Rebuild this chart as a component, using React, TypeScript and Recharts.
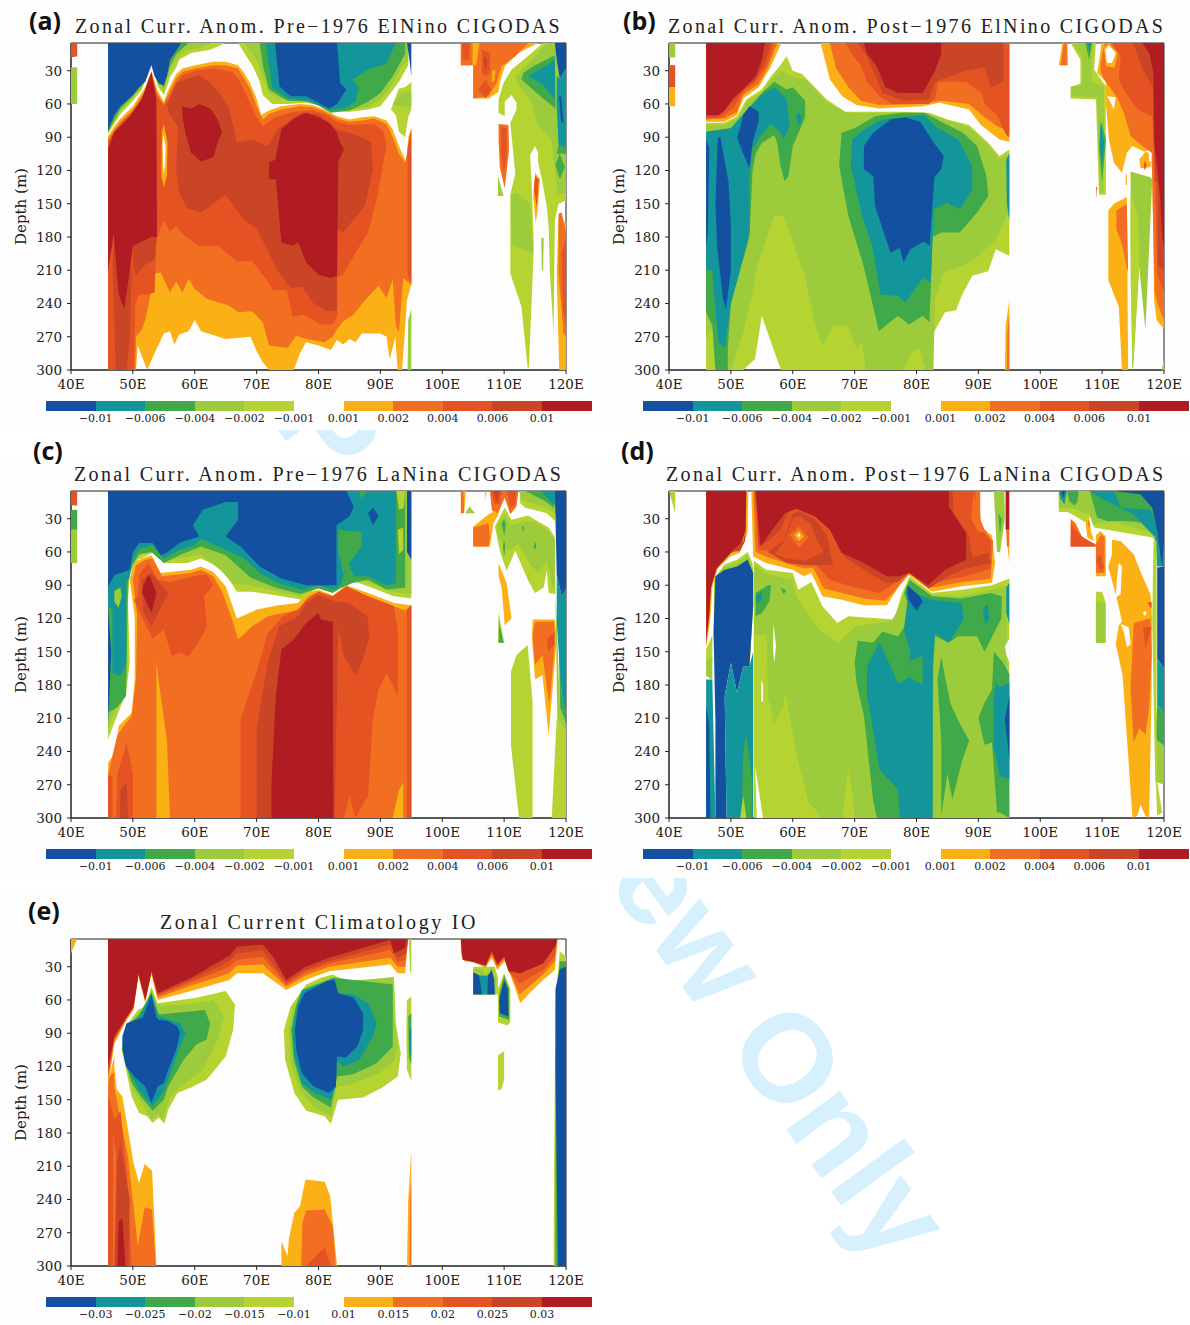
import { ReferenceArea, Scatter, ScatterChart, XAxis, YAxis } from "recharts";

type Blob = [number, number[]];

const lonTicks = [40, 50, 60, 70, 80, 90, 100, 110, 120];
const depthTicks = [30, 60, 90, 120, 150, 180, 210, 240, 270, 300];
const anomalyCold = ["−0.01", "−0.006", "−0.004", "−0.002", "−0.001"];
const anomalyWarm = ["0.001", "0.002", "0.004", "0.006", "0.01"];
const climCold = ["−0.03", "−0.025", "−0.02", "−0.015", "−0.01"];
const climWarm = ["0.01", "0.015", "0.02", "0.025", "0.03"];

// 0-4 cold levels, 5-9 warm levels, 10 = masked back to white
const bandColors = ["#1450a0", "#12959b", "#40a94a", "#9ccb3b", "#b5d431", "#fbb116", "#f26f22", "#e55323", "#c94526", "#b01c22", "#fdfdfd"];

// each entry: colour band, then lon,depth pairs of one contour outline (painted outer to inner)
const panelA: Blob[] = [
  [7, [40, 5, 41, 5, 41, 17, 40, 18]],
  [3, [40, 27, 41, 27, 41, 60, 40, 60]],
  [5, [46, 89, 47, 80, 48, 73, 50, 62, 52, 45, 53, 30, 54, 48, 55, 58, 55.5, 50, 56, 44, 57, 33, 58, 28, 60, 25, 63, 22, 65, 22, 67, 25, 68, 32, 69, 42, 70, 55, 70.7, 70, 72, 66, 74, 62, 77, 60, 79, 61, 81, 65, 83, 71, 85, 74, 87, 72, 89, 71, 91, 75, 92, 83, 93, 98, 94.2, 113, 94.5, 90, 95, 82, 95, 223, 94.3, 237, 93.9, 270, 93.5, 300, 92.8, 300, 92.4, 270, 92, 280, 91.5, 290, 91, 270, 90, 267, 87, 267, 86, 275, 85, 272, 84, 277, 83, 273, 82, 282, 80, 278, 78, 275, 77, 285, 76, 300, 72, 300, 71, 293, 70, 283, 69, 270, 65, 272, 61, 265, 60, 255, 59, 265, 57.5, 268, 56.7, 277, 56, 265, 55, 267, 53.5, 285, 52.3, 300, 50.8, 278, 50.5, 300, 46, 300]],
  [6, [46, 92, 47, 83, 48, 76, 50, 65, 52, 48, 53, 33, 54, 51, 55, 60, 56, 48, 57, 37, 58, 31, 60, 28, 63, 25, 65, 25, 67, 28, 68, 37, 69, 47, 70, 62, 71, 74, 72, 69, 74, 65, 77, 62, 79, 63, 81, 67, 83, 73, 85, 76, 87, 75, 89, 73, 91, 78, 92, 90, 93, 105, 94, 113, 95, 85, 95, 223, 93.7, 217, 93, 266, 92.5, 260, 92, 218, 91, 235, 89.7, 224, 87.2, 239, 85.7, 250, 84, 256, 83, 263, 82.3, 270, 81, 275, 78, 272, 76.4, 269, 75, 280, 72, 278, 71, 257, 69.3, 247, 67, 248, 65.6, 242, 62, 236, 60, 227, 59, 218, 58, 230, 57, 220, 56, 230, 54.5, 212, 53.5, 213, 53, 228, 52, 255, 51.5, 263, 50.5, 270, 50.4, 300, 46, 300]],
  [7, [46, 93, 47, 85, 48, 78, 50, 67, 52, 50, 53, 34, 54, 54, 55, 62, 56, 53, 57, 41, 58, 34, 60, 30, 63, 28, 66, 31, 67, 37, 68, 48, 69, 60, 70, 72, 71, 80, 73, 72, 76, 67, 79, 66, 81, 69, 83, 76, 85, 79, 89, 78, 90.5, 85, 91, 98, 90.3, 119, 89.4, 146, 88, 176, 85.7, 197, 84, 214, 83, 216, 83, 252, 82.3, 259, 80.4, 259, 77.7, 250, 75.8, 252, 74.9, 228, 72.7, 228, 71.5, 218, 69.3, 202, 66.8, 202, 63.7, 188, 60.6, 188, 58.2, 178, 57, 170, 56, 175, 55, 165, 53.8, 182, 53.5, 230, 52, 232, 51, 232, 50.4, 240, 50.2, 300, 46, 300]],
  [7, [94.4, 100, 95, 82, 95, 222, 94.4, 215]],
  [8, [55.5, 61, 57, 41, 58.8, 37, 60.7, 34, 62.5, 41, 64.4, 53, 65.6, 65, 66.8, 95, 69.3, 92, 71.8, 98, 73.6, 82, 77.3, 68, 80, 69, 83, 83, 86, 88, 88.5, 94, 88.8, 119, 87.5, 152, 85.7, 164, 84, 176, 83, 173, 83, 246, 81.4, 247, 79.2, 240, 77.3, 225, 75.5, 226, 73.3, 210, 71.8, 192, 69.9, 172, 68, 165, 65, 142, 61, 158, 58.8, 154, 57.5, 140, 57, 120, 57.3, 80, 56, 70]],
  [8, [50, 188, 53, 180, 53.9, 180, 53.5, 200, 52, 205, 50.5, 215, 50, 205]],
  [8, [46.7, 200, 47, 178, 48, 190, 49.8, 210, 49.5, 270, 49, 300, 47.2, 300, 47, 250]],
  [9, [46, 100, 47, 85, 49.5, 71, 51.4, 56, 53, 31, 53.8, 56, 53.9, 180, 53, 180, 50, 188, 49.5, 210, 48.6, 245, 47.7, 232, 46.9, 178, 46, 210]],
  [9, [58, 62, 59.4, 64, 60.8, 60, 62.5, 64, 63.7, 74, 64.4, 86, 63.7, 95, 63, 108, 61, 112, 59.4, 104, 58.5, 86, 58, 71]],
  [9, [74, 83, 76, 73, 78, 68, 80, 72, 81.7, 77, 83, 86, 83.3, 92, 84.1, 101, 83.2, 112, 83, 215, 82, 217, 80, 214, 78, 203, 76.7, 185, 75.8, 188, 74, 185, 73.1, 128, 72, 128, 72, 113, 73, 110]],
  [5, [54.7, 85, 55, 78, 55.6, 95, 55.5, 125, 55, 135, 54.6, 125]],
  [10, [54.8, 95, 55, 88, 55.3, 100, 55.2, 115, 55, 123, 54.9, 115]],
  [4, [46, 87, 48, 69, 50, 57, 51.5, 47, 53, 19, 54, 44, 55, 52, 55.5, 45, 56, 36, 57, 27, 57.5, 20, 59.4, 14, 62.5, 11, 65, 5, 46, 5]],
  [3, [46, 85, 48, 66, 50, 54, 51.5, 45, 53, 19, 54, 42, 55, 48, 56, 30, 57, 20, 58.5, 12, 61, 9, 63, 5, 46, 5]],
  [2, [46, 85, 48, 64, 50, 53, 51.5, 43, 53, 19, 54, 40, 55, 45, 56, 26, 57, 15, 59, 5, 46, 5]],
  [0, [46, 84, 47, 70, 48, 62, 50, 52, 51, 45, 52, 40, 53, 25, 53.5, 35, 54.3, 42, 55, 43, 55.5, 35, 56, 20, 57, 12, 57.8, 5, 46, 5]],
  [4, [67, 5, 69.5, 27, 70.5, 40, 71, 52, 72.5, 60, 75, 60, 78, 59, 81, 62, 83, 67, 85, 67, 88, 65, 90, 62, 91, 55, 93, 40, 94.5, 25, 94.5, 5]],
  [3, [68, 5, 70, 20, 71, 35, 72, 50, 74, 55, 78, 57, 81, 61, 83, 65, 85, 65, 88, 63, 90, 56, 92, 42, 93.5, 25, 94.5, 22, 94.5, 5]],
  [2, [70.5, 5, 71, 25, 72, 47, 75, 57, 79, 58, 82, 68, 85, 66, 88, 58, 90, 50, 92, 35, 94, 15, 94, 5]],
  [1, [71.5, 5, 72, 25, 72.5, 45, 75, 55, 78, 57, 82, 66, 84, 64, 86, 58, 86.5, 45, 85.5, 38, 88, 29, 91, 24, 91.7, 14, 92.5, 5]],
  [0, [73, 5, 73.3, 23, 73.7, 44, 75.5, 53, 78, 53, 81.7, 64, 83, 60, 84.5, 47, 83.5, 41, 83, 5]],
  [0, [94.3, 5, 95, 5, 95, 35, 94.7, 20]],
  [4, [91.7, 65, 93, 46, 94, 45, 95, 40, 95, 65, 94.5, 72, 94, 90, 93, 85, 92.5, 70]],
  [3, [92, 60, 93.5, 50, 95, 48, 95, 62, 93, 62]],
  [3, [94.4, 300, 94.5, 255, 95, 245, 95, 300]],
  [5, [103, 5, 115.5, 5, 112.3, 14, 110.1, 26, 109.3, 41, 109.1, 49, 107.5, 55, 105, 55, 105, 25, 103, 25]],
  [6, [103, 5, 114, 5, 111.8, 17, 109.6, 26, 108.8, 41, 107.5, 53, 105, 55, 105, 25, 103, 25]],
  [5, [104.9, 5, 106, 5, 105.5, 25, 104.9, 25]],
  [7, [103.2, 5, 104.5, 5, 104.3, 20, 103.3, 20]],
  [7, [106.4, 11, 107.7, 14, 107.7, 32, 107, 35, 106.4, 32]],
  [8, [106.7, 18, 107.2, 18, 107.2, 28, 106.9, 30]],
  [7, [105.8, 47, 107, 38, 107.9, 47, 107, 55]],
  [5, [108.1, 30, 108.6, 29, 108.4, 40, 108, 40]],
  [4, [116.3, 5, 120, 5, 120, 147, 118.8, 150, 118.2, 165, 118, 267, 117.4, 213, 117.2, 171, 116.9, 153, 116.1, 128, 115.5, 113, 115.5, 104, 115, 98, 114.2, 106, 114.5, 138, 114.8, 189, 114, 298, 113.8, 298, 112.8, 243, 111, 213, 111, 142, 111.8, 123, 111, 77, 112, 65, 112, 59, 111.2, 52, 110.1, 58, 110.1, 71, 109.1, 68, 109.1, 56, 109.9, 41, 111.2, 29, 113.4, 19]],
  [3, [116.9, 5, 120, 5, 120, 140, 118.7, 142, 118.2, 122, 117.7, 92, 115.5, 80, 114.5, 59, 112.5, 45, 111.8, 35, 113.4, 27]],
  [3, [111.1, 142, 112, 140, 114.2, 150, 114.7, 195, 111.2, 187]],
  [3, [116, 181, 116.4, 181, 116.3, 210, 116.1, 210]],
  [3, [109, 125, 109.9, 143, 109, 143]],
  [2, [113.1, 32, 115, 25, 118.2, 16, 118.3, 64, 116.3, 55, 112.8, 38]],
  [1, [113.9, 35, 116.9, 25, 118.2, 20, 118.2, 56, 116.3, 43]],
  [0, [118.2, 5, 120, 5, 120, 28, 119, 37, 118.5, 20]],
  [1, [118.5, 35, 119, 37, 120, 28, 120, 100, 118.8, 97, 118.5, 62]],
  [0, [118.9, 53, 119.2, 53, 119.6, 77, 119.2, 76]],
  [2, [118.8, 97, 120, 100, 120, 105, 118.5, 105]],
  [2, [119, 105, 119.8, 117, 119, 128, 118.3, 115]],
  [6, [109.1, 78, 110.7, 79, 110.8, 101, 110.1, 136, 109.3, 117, 109.1, 92]],
  [7, [109.5, 80, 110.4, 82, 110.4, 105, 110, 122, 109.5, 105]],
  [5, [115, 122, 115.8, 128, 115.4, 158, 115.1, 167, 114.7, 144]],
  [7, [115, 125, 115.6, 128, 115.3, 153, 114.8, 138]],
  [5, [118.8, 162, 120, 168, 120, 300, 118.9, 300, 118.5, 213]],
  [6, [118.8, 159, 119.3, 158, 120, 175, 120, 270, 119.6, 267, 118.8, 213]],
  [7, [119.3, 195, 120, 180, 120, 260, 119.5, 245]],
];

const panelB: Blob[] = [
  [3, [40, 5, 41, 5, 41, 18, 40, 18]],
  [7, [40, 25, 41, 25, 41, 45, 40, 45]],
  [5, [40, 45, 41, 45, 41, 62, 40, 62]],
  [5, [46, 76, 49, 76, 51, 70, 52, 55, 54.5, 45, 56.3, 28, 58, 7, 58, 5, 46, 5]],
  [6, [46, 74, 49, 73, 51, 67, 52, 52, 54.5, 42, 56, 27, 57.5, 5, 46, 5]],
  [7, [46, 73, 48.5, 72, 50.5, 63, 52, 49, 54, 40, 55.8, 25, 57, 5, 46, 5]],
  [8, [46, 72, 48, 71, 50, 60, 52, 47, 54, 38, 55.5, 22, 56.5, 5, 46, 5]],
  [9, [46, 70, 48, 70, 49, 66, 50.3, 55, 52, 47, 54, 35, 55, 20, 55.5, 5, 46, 5]],
  [5, [64.5, 5, 66, 38, 68, 53, 70.3, 61, 74, 64, 81, 62, 83.7, 59, 88.5, 65, 90.4, 79, 93.4, 92, 95, 94, 95, 5]],
  [6, [66, 5, 67, 28, 69, 45, 71, 57, 74, 61, 81, 60, 84, 57, 88.5, 60, 91, 72, 93, 80, 95, 85, 95, 5]],
  [7, [68.5, 5, 69.5, 15, 71, 25, 72, 40, 74, 53, 76, 60, 82, 60, 83, 55, 83.5, 40, 88, 40, 90.5, 50, 91, 60, 93, 70, 94.5, 88, 95, 90, 95, 5]],
  [8, [70.5, 5, 72, 17, 73, 30, 74.5, 50, 78, 57, 82, 56, 83, 40, 88, 30, 91, 27, 92, 45, 94, 40, 94, 5]],
  [9, [71.5, 5, 72, 15, 73.5, 25, 75, 45, 77, 50, 81, 50, 83, 30, 84, 15, 84, 5]],
  [4, [46, 77, 49, 77, 51, 71, 52.5, 56, 55, 47, 56.5, 35, 58, 25, 59, 17, 60, 30, 61.5, 33, 65.5, 56, 68.5, 67, 71.5, 67, 77.5, 67, 82, 68, 85, 74, 88.5, 79, 91.6, 95, 93.4, 107, 95, 101, 95, 197, 92.8, 191, 91.6, 211, 89, 215, 87.3, 233, 86.4, 246, 84.6, 248, 82.8, 266, 82.7, 300, 58.1, 300, 56.3, 272, 55, 251, 53.9, 290, 52, 300, 46, 300]],
  [3, [46, 79, 49, 79, 51, 73, 52.7, 58, 55, 50, 56.5, 38, 58, 30, 60, 36, 62, 38, 65.5, 58, 68.5, 68, 82, 69, 85, 75, 88.5, 81, 91.6, 97, 93.4, 110, 95, 105, 95, 161, 94.6, 161, 92.8, 182, 89.8, 198, 87.3, 206, 84.3, 212, 83, 237, 82.7, 300, 81.5, 300, 80.5, 280, 79, 285, 78, 300, 71.8, 300, 71.2, 275, 70.3, 281, 69, 260, 66.6, 260, 64.8, 278, 63.6, 258, 61.8, 212, 58.5, 161, 57, 161, 54.2, 207, 53.3, 236, 52, 266, 50, 300, 47.5, 300, 47, 262, 46, 272]],
  [2, [46, 85, 50, 82, 52, 70, 53, 63, 55, 50, 57, 40, 59, 47, 60, 45, 62, 57, 62, 72, 61, 85, 60, 98, 59.3, 125, 58.7, 130, 58, 115, 57.5, 95, 57, 88, 55, 95, 54, 105, 53.5, 120, 53, 180, 52, 200, 51, 215, 50, 240, 49.5, 280, 49.5, 300, 47.5, 300, 47, 260, 46, 248]],
  [1, [46, 85, 50, 82, 52, 69, 53, 63, 55, 52, 57, 45, 59, 55, 59.5, 80, 58.5, 92, 58, 85, 56.5, 78, 55, 87, 53.5, 100, 53, 125, 53, 175, 51.5, 210, 50, 240, 49, 280, 48, 275, 47.5, 245, 47, 210, 46, 210]],
  [1, [60.5, 72, 61, 67, 61.5, 73, 61, 80]],
  [0, [46, 92, 46.5, 100, 46.3, 175, 46, 190]],
  [0, [47.9, 90, 48.3, 90, 49.6, 130, 50, 170, 50, 210, 49.2, 245, 48.7, 235, 47.8, 190, 47.5, 150]],
  [0, [53, 62, 54.5, 67, 54.5, 75, 53.5, 95, 53, 118, 52, 105, 51, 90, 51.5, 82, 52, 70]],
  [2, [67.9, 86, 70, 82, 73.3, 71, 77.6, 68, 81.3, 68, 84, 76, 87.5, 86, 89.8, 98, 91.3, 125, 91.6, 143, 89.8, 158, 87, 176, 84, 176, 82.6, 180, 82.1, 257, 81, 251, 78.8, 259, 77, 251, 73.9, 265, 73, 243, 71.5, 207, 69, 161, 67.5, 116]],
  [1, [69.6, 92, 71.5, 83, 74.5, 74, 81.2, 70, 83, 80, 86.7, 92, 89, 116, 89, 137, 87, 155, 84.9, 149, 82.8, 155, 82.3, 221, 81, 217, 78.2, 239, 77, 233, 74.2, 232, 72.7, 185, 71.2, 161, 69.4, 116]],
  [0, [73, 86, 75.8, 74, 78.2, 72, 80.6, 76, 82.8, 95, 84.4, 107, 84, 119, 82.9, 126, 82.1, 188, 81.2, 184, 79, 191, 77.9, 203, 77.3, 190, 75.8, 194, 73.3, 152, 73, 125, 71.5, 119, 71.5, 98]],
  [1, [94.5, 110, 95, 105, 95, 165, 94.6, 150]],
  [5, [94.3, 300, 94.4, 260, 95, 237, 95, 300]],
  [6, [94.6, 300, 94.7, 265, 95, 250, 95, 300]],
  [5, [103, 25, 103.6, 5, 104.4, 5, 104.5, 25]],
  [6, [103.3, 25, 103.8, 5, 104.3, 5, 104.3, 25]],
  [4, [104.9, 5, 109, 5, 108.7, 29, 110.6, 44, 110.6, 142, 109.5, 142, 109, 56, 104.9, 55, 104.9, 44, 106.5, 43, 106.5, 20]],
  [3, [105.3, 5, 108.5, 5, 108.3, 25, 108.3, 40, 110.3, 44, 110.3, 77, 110.2, 140, 109.6, 140, 109.2, 54, 105, 53, 105, 45, 106.8, 41, 106.8, 17]],
  [2, [107.3, 5, 108.4, 5, 107.9, 20]],
  [1, [107.7, 5, 108.2, 5, 107.9, 13]],
  [2, [109.9, 76, 110.6, 92, 110, 130, 109.5, 100]],
  [1, [109.7, 77, 110.3, 95, 110, 116, 109.6, 95]],
  [5, [109.9, 5, 120, 5, 120, 263, 118.8, 255, 118.4, 237, 118.1, 122, 117.8, 101, 116.8, 103, 114.9, 98, 114, 104, 113.2, 122, 111.9, 113, 111.1, 92, 110.6, 59, 110.6, 40, 109.2, 32, 109.7, 14]],
  [6, [110.5, 5, 120, 5, 120, 255, 119, 241, 118.5, 230, 118, 104, 116.5, 98, 114.6, 89, 113.5, 68, 112.5, 55, 111.5, 47, 110.3, 38, 109.7, 30, 110, 15]],
  [7, [111.6, 5, 120, 5, 120, 230, 118.9, 213, 118.5, 122, 118.1, 71, 115.7, 65, 113.8, 50, 112.7, 38, 113, 17]],
  [8, [115, 5, 120, 5, 120, 210, 119, 205, 119, 130, 118.5, 130, 118.2, 45, 116.5, 28]],
  [9, [116.5, 5, 120, 5, 120, 190, 119.7, 180, 119.4, 146, 118.4, 92, 118.3, 32, 117.6, 14]],
  [10, [110.8, 53, 112.2, 54, 111.9, 65, 111.4, 59]],
  [5, [110.3, 9, 111.1, 5, 112.5, 14, 112, 27, 110.6, 26]],
  [10, [110.5, 11, 111.1, 7, 112.2, 14, 111.6, 23, 110.8, 23]],
  [5, [117, 103, 118, 105, 117.8, 117, 116.2, 118, 116, 110]],
  [7, [116.9, 111, 117.2, 115, 116.9, 120, 116.7, 116]],
  [10, [117.5, 103, 118, 104, 118, 112, 117.6, 112]],
  [3, [114.6, 121, 117.8, 126, 118.1, 128, 117, 264, 116, 207, 115, 300, 114.9, 300, 114.6, 183]],
  [4, [114.6, 141, 115.8, 162, 116, 201, 115, 298, 114.9, 298, 114.6, 215]],
  [5, [111, 156, 111.9, 150, 114, 144, 114.2, 300, 113.2, 300, 112.7, 243, 111, 219]],
  [6, [112.3, 156, 114, 150, 114.2, 213, 113.2, 186, 112.3, 173]],
  [5, [113.8, 125, 114, 123, 114, 133, 113.8, 133]],
  [6, [109, 135, 109.2, 135, 109.1, 145]],
  [4, [119.6, 300, 120, 290, 120, 300]],
];

const panelC: Blob[] = [
  [7, [40, 5, 41, 5, 41, 18, 40, 18]],
  [2, [40, 22, 41, 22, 41, 40, 40, 40]],
  [3, [40, 40, 41, 40, 41, 70, 40, 70]],
  [5, [46, 250, 47.3, 240, 47.7, 217, 49.8, 205, 50.3, 175, 50.3, 118, 49.5, 85, 50.1, 70, 51.4, 66, 53, 63, 54.5, 79, 59.4, 76, 61, 73, 63, 78, 65, 91, 66.8, 120, 70, 112, 73.6, 108, 76.7, 106, 78, 97, 80, 94, 82.3, 99, 84.5, 90, 88, 97, 92.2, 106, 95, 108, 95, 300, 46, 300]],
  [6, [46, 260, 47.5, 225, 49.8, 208, 50.5, 175, 50.7, 118, 50, 85, 50.5, 72, 52, 67, 53.2, 66, 54.7, 82, 59.4, 79, 61, 76, 63, 82, 64.5, 97, 66, 120, 67, 139, 69.3, 127, 71.8, 118, 77, 112, 78.5, 100, 80, 96, 82.3, 101, 84.5, 93, 88, 100, 92.2, 109, 94, 113, 95, 108, 95, 300, 46, 300]],
  [5, [53.8, 160, 54.5, 190, 55.5, 230, 56, 300, 53.8, 300]],
  [5, [92, 300, 93, 275, 93.7, 268, 93.7, 300]],
  [7, [50.8, 100, 51, 80, 52.5, 70, 54, 85, 56, 87, 60, 82, 62, 80, 63, 90, 61.5, 100, 62, 127, 60.6, 142, 59, 154, 57.5, 151, 56.3, 154, 55, 130, 53.2, 138, 51.4, 118, 50.2, 103]],
  [8, [51.4, 85, 53, 79, 55.7, 97, 53, 127, 51.7, 115]],
  [9, [52.6, 80, 53.8, 97, 53, 115, 51.5, 97, 51.7, 90]],
  [7, [67.4, 300, 67.4, 211, 69.9, 170, 71.8, 133, 74.3, 118, 76.7, 112, 78, 103, 80, 96, 82.3, 100, 84.5, 91, 88, 100, 92.2, 109, 92.8, 130, 92.8, 190, 91, 169, 89.7, 184, 88.8, 211, 88, 280, 86, 300, 85, 280, 84.1, 300]],
  [7, [94.3, 112, 95, 108, 95, 300, 94.3, 300]],
  [8, [70, 300, 70, 220, 71.8, 160, 73.6, 127, 76.7, 118, 78, 106, 80, 99, 82.9, 105, 84.8, 106, 87.9, 118, 88.2, 136, 87.2, 157, 86, 172, 84.1, 154, 83.2, 127, 82.6, 300]],
  [9, [72.4, 300, 72.4, 268, 73.1, 190, 74, 148, 76, 139, 78, 124, 80, 115, 80.4, 121, 82.3, 123, 82.4, 300]],
  [7, [47.3, 300, 47.5, 260, 49, 232, 50, 260, 50, 300]],
  [8, [47.9, 300, 48, 275, 49, 268, 49.2, 300]],
  [7, [46, 262, 46.7, 262, 46.7, 300, 46, 300]],
  [4, [46, 5, 95, 5, 95, 102, 92.2, 100, 88, 91, 85, 85, 82.3, 94, 80, 91, 77.3, 103, 73, 99, 69.3, 96, 66.8, 96, 65.6, 85, 63.7, 73, 61, 66, 58.8, 70, 55, 70, 53.2, 61, 50.8, 67, 49.5, 79, 49.2, 106, 49.5, 160, 48.9, 187, 47, 214, 46, 229]],
  [3, [46, 5, 95, 5, 95, 98, 92, 96, 88, 87, 85, 80, 83, 90, 82.3, 92, 80, 90, 77, 100, 73, 95, 69, 90, 66, 88, 64.5, 78, 61, 62, 57.5, 66, 55, 68, 53.2, 59, 51, 63, 49.6, 75, 49, 106, 49.2, 160, 48.5, 190, 46.5, 210, 46, 222]],
  [2, [46, 5, 94, 5, 94, 92, 91, 94, 88, 85, 85.5, 88, 83.5, 93, 82.3, 97, 80, 93, 77, 98, 73, 92, 69, 83, 65, 63, 61, 55, 57.5, 63, 55, 70, 53, 60, 51, 62, 49.8, 73, 49.2, 88, 49, 160, 48.9, 190, 47.5, 200, 46, 205]],
  [1, [46, 5, 92.5, 5, 92.5, 88, 91, 90, 88, 82, 85.7, 82, 84.8, 70, 83.5, 90, 82.3, 94, 80, 90, 77.3, 94, 73.6, 88, 70.5, 79, 68, 66, 65, 58, 61, 48, 60, 54, 57.5, 58, 55, 66, 53.2, 54, 51, 57, 50, 67, 49.5, 82, 48.9, 88, 48.9, 160, 48, 172, 46.7, 169, 46.7, 110, 46, 110]],
  [0, [46, 5, 84.5, 5, 85.7, 19, 85, 28, 82.9, 36, 82.9, 90, 81.7, 90, 78, 90, 74, 84, 70.5, 73, 67.4, 55, 65, 46, 67, 31, 67, 15, 65, 15, 61.3, 22, 59.7, 36, 60.7, 46, 57.5, 52, 55.4, 61, 54.5, 63, 53.2, 52, 51, 52, 50, 60, 49.5, 76, 47, 81, 46, 91]],
  [0, [46, 110, 46.5, 150, 46, 215]],
  [2, [83.2, 40, 87, 42, 87, 55, 85, 70, 84.8, 72, 84, 80, 83.2, 60]],
  [2, [86.5, 5, 87.8, 5, 87, 12]],
  [0, [88, 25, 88.8, 20, 89.7, 27, 88.8, 36]],
  [4, [92.6, 5, 94, 5, 93.8, 20, 93, 22]],
  [4, [92.8, 40, 93.7, 38, 93.7, 58, 93, 62]],
  [3, [48, 92, 47, 95, 47, 105, 47.7, 110, 48.2, 100]],
  [0, [94.3, 5, 95, 5, 95, 67, 94.3, 60]],
  [6, [103, 5, 103.7, 5, 103.5, 25, 103, 25]],
  [5, [103.4, 5, 103.8, 5, 103.6, 25]],
  [3, [103.7, 25, 104.4, 19, 105.3, 25]],
  [4, [106.9, 5, 107.2, 5, 107, 13]],
  [6, [107.7, 5, 112.3, 5, 112, 19, 111, 26, 110.1, 11, 108.8, 28, 108, 22]],
  [7, [107.9, 5, 109.6, 5, 109.3, 17, 108.5, 17]],
  [8, [108.3, 5, 109.3, 5, 108.8, 15]],
  [7, [110.4, 5, 112, 5, 111.8, 17, 111, 20]],
  [5, [105, 37, 107.5, 26, 108.5, 23, 109.1, 26, 108.3, 34, 107.7, 55, 105, 55]],
  [6, [105, 38, 107.5, 34, 107.7, 47, 107.5, 55, 105, 55]],
  [5, [109.1, 70, 110.4, 88, 111.2, 120, 110.1, 126, 109.6, 92, 109.1, 82]],
  [3, [109.1, 115, 110, 142, 109, 142]],
  [2, [109.2, 125, 109.9, 142, 109.2, 142]],
  [4, [111.1, 168, 112, 153, 113.8, 144, 114.6, 195, 114.6, 300, 112.4, 300, 111.1, 234]],
  [5, [114.6, 121, 118.2, 121, 118.5, 138, 117.2, 226, 116.2, 171, 115, 175, 114.5, 138]],
  [6, [115, 123, 118.1, 123, 118.2, 143, 117.3, 198, 116.2, 153, 115, 162, 114.6, 135]],
  [7, [116.9, 139, 118.2, 132, 118.1, 143, 117.1, 150]],
  [4, [110.1, 20, 111.2, 31, 113.9, 27, 115, 31, 117.2, 38, 118.2, 47, 118.3, 98, 117.2, 97, 116.9, 77, 116.4, 92, 115, 97, 113.9, 86, 111.8, 59, 110.4, 77, 109.3, 59, 108.5, 37]],
  [3, [110.1, 26, 111, 36, 113.9, 32, 115, 33, 117.2, 41, 118.2, 50, 118.2, 95, 117.7, 89, 116.9, 68, 115.5, 79, 114.2, 71, 112.3, 53, 110.7, 59, 110.1, 55, 109.1, 47, 108.8, 37]],
  [2, [109.6, 35, 110, 30, 110.3, 36, 110, 45]],
  [2, [109.8, 55, 110, 50, 110.2, 55, 110, 65]],
  [2, [112.9, 38, 113.1, 36, 113.2, 40, 113.1, 42]],
  [2, [114.8, 55, 115, 50, 115.2, 55, 115, 58]],
  [4, [112.5, 5, 118.5, 5, 118.2, 32, 116.9, 25, 113.4, 20, 112.6, 16]],
  [3, [112.6, 5, 118.5, 5, 118.3, 26, 116.9, 20, 112.8, 13]],
  [2, [113.4, 5, 118, 5, 118, 20, 116.6, 14]],
  [1, [116.1, 5, 118.2, 5, 118.2, 18, 116.8, 10]],
  [3, [118.3, 100, 118.5, 120, 119, 200, 120, 215, 120, 285, 118.6, 210]],
  [4, [118.5, 210, 120, 220, 120, 300, 117.7, 300]],
  [2, [118.8, 122, 119.3, 189, 120, 200, 120, 215, 119, 200]],
  [1, [118.5, 80, 119.3, 100, 120, 90, 120, 204, 119.3, 189, 118.5, 123, 118.5, 100]],
  [0, [118.2, 5, 120, 5, 120, 92, 119.3, 100, 118.5, 80]],
];

const panelD: Blob[] = [
  [4, [40, 5, 41, 5, 41, 25, 40.5, 15]],
  [5, [46, 147, 46.7, 120, 47, 91, 47.9, 75, 49.9, 64, 51.4, 61, 52.7, 43, 52.8, 5, 46, 5]],
  [9, [46, 143, 46.5, 118, 46.8, 92, 47.7, 75, 50, 61, 51.5, 56, 52.4, 40, 52.5, 5, 46, 5]],
  [8, [50, 60, 51, 55, 52, 50, 52.4, 40, 52.3, 50, 51.5, 59]],
  [5, [53.3, 5, 53.6, 64, 55.7, 70, 60, 76, 61.8, 82, 63, 79, 64.8, 100, 67.9, 103, 71.5, 108, 75.2, 108, 77.3, 90, 78.8, 81, 82.5, 96, 87.3, 91, 92.2, 88, 92.7, 70, 92.2, 45, 90.5, 39, 90, 5]],
  [6, [53.6, 5, 54, 60, 56, 65, 60, 72, 62, 75, 63.3, 74, 65, 93, 68, 97, 71.5, 102, 75, 104, 76.5, 95, 78.8, 79, 82.5, 92, 87.5, 87, 92, 84, 92.4, 50, 91, 40, 90.3, 30, 90.3, 5]],
  [7, [53.8, 5, 54.5, 58, 58, 60, 60, 67, 63, 67, 66, 85, 70, 92, 74, 97, 76, 90, 78.8, 77, 82.5, 88, 88, 82, 92, 75, 92, 50, 91, 43, 89.5, 35, 89.5, 5]],
  [8, [54, 5, 54.5, 55, 56, 50, 58, 40, 59.5, 22, 60.6, 19, 64, 28, 66.5, 43, 68.5, 65, 71.5, 76, 75, 88, 77, 87, 78.8, 79, 82, 93, 85, 82, 88, 75, 92, 70, 91, 50, 89.8, 45, 88.5, 30, 88, 5]],
  [9, [54, 5, 54.8, 55, 56.3, 43, 58.7, 25, 60.6, 21, 63.6, 28, 66, 40, 67.9, 61, 71.5, 70, 75.2, 82, 77.3, 82, 78.8, 79, 81.9, 90, 84.6, 76, 88, 67, 88, 43, 85.2, 19, 85.2, 5]],
  [7, [88, 5, 88.8, 30, 90, 42, 91.8, 48, 91.8, 60, 89, 65, 88.5, 45, 86, 25, 85.8, 5]],
  [6, [89.3, 5, 89.8, 35, 91.5, 42, 90, 42, 88.8, 30]],
  [8, [56, 60, 58.5, 50, 60, 26, 61, 23, 63.5, 30, 65.5, 45, 66.5, 72, 62, 72, 59, 70]],
  [7, [57, 62, 58.5, 52, 60, 30, 61, 27, 63, 35, 64, 50, 65, 60, 62, 68, 59, 66]],
  [6, [59.5, 45, 61, 37, 62.5, 47, 61, 56]],
  [5, [60.2, 45, 61, 41, 61.8, 46, 61, 50]],
  [10, [60.8, 45, 61, 43, 61.2, 45, 61, 47]],
  [4, [53.7, 68, 55.7, 76, 60, 79, 60.9, 94, 63, 87, 64.8, 109, 67.2, 124, 69, 118, 76.4, 121, 77.6, 98, 78.9, 82, 82.5, 97, 87.3, 94, 92.2, 90, 95, 84, 95, 300, 53.7, 300]],
  [3, [53.8, 72, 56, 80, 60, 85, 60.6, 100, 64.2, 130, 67.2, 142, 70.3, 127, 76, 122, 77, 112, 78.2, 94, 82.5, 99, 87.3, 100, 92.2, 94, 94.5, 90, 95, 300, 53.8, 300]],
  [4, [53.8, 135, 55.8, 135, 56, 190, 57, 215, 58.5, 200, 58.8, 185, 60.5, 240, 62.5, 285, 64.8, 300, 53.8, 300]],
  [4, [68, 300, 68.3, 285, 69, 255, 69.7, 280, 70, 300]],
  [10, [53.9, 253, 54.8, 285, 55.2, 300, 54.2, 300]],
  [10, [56.9, 125, 57.3, 145, 57, 160, 56.8, 145]],
  [10, [54.9, 175, 55.2, 180, 55.2, 195, 54.9, 195]],
  [2, [70, 160, 70.5, 140, 73, 142, 74.5, 132, 77, 136, 78, 128, 78.5, 105, 78, 97, 78.9, 85, 82.5, 100, 87.3, 102, 92, 97, 93.8, 100, 93.7, 120, 92.8, 130, 91, 150, 89.8, 136, 86.7, 136, 85.2, 142, 83, 136, 82.7, 165, 82.6, 300, 73.6, 300, 73, 284, 71.5, 208, 70.3, 178]],
  [1, [72, 163, 74, 142, 76.4, 170, 77, 179, 78.8, 173, 79, 150, 78, 130, 78.6, 105, 78.2, 94, 82.5, 103, 87.3, 106, 87.6, 121, 85.2, 142, 83, 133, 82.6, 160, 82.6, 300, 77.3, 300, 77, 274, 74, 256, 72.7, 211, 72, 190]],
  [2, [78.8, 173, 79, 158, 81, 154, 81, 180]],
  [0, [78.5, 90, 80.5, 100, 81, 105, 80, 113, 78.8, 104, 78.5, 97]],
  [2, [83.4, 175, 84, 230, 84, 298, 85, 260, 85.8, 283, 87.3, 250, 88.5, 230, 87, 215, 85.5, 197, 84.7, 175, 84, 155]],
  [2, [92.5, 150, 94, 160, 95, 170, 95, 300, 93.5, 295, 93, 295, 92.2, 232, 91, 234, 90, 210, 91, 196, 92.2, 184]],
  [1, [92.8, 178, 93.5, 182, 95, 178, 95, 265, 93.5, 262, 92.5, 237, 92.5, 190]],
  [0, [94.3, 211, 95, 190, 95, 247]],
  [1, [90.8, 110, 91.5, 107, 91.8, 120, 91.2, 125, 90.8, 118]],
  [1, [94.5, 92, 95, 88, 95, 125, 94.5, 115]],
  [4, [47.2, 140, 47.3, 84, 49, 71, 51, 67, 52.7, 60, 53.5, 70, 53.6, 109, 53, 165]],
  [3, [47.3, 130, 47.4, 83, 49, 73, 51, 70, 52.7, 63, 53.6, 75, 53.6, 109, 53, 165]],
  [0, [47.5, 82, 49, 76, 51, 73, 52.7, 67, 53.6, 79, 53.6, 109, 53, 163, 52, 163, 51, 187, 50, 160, 49, 190, 49.3, 300, 47.5, 300, 47.5, 212, 47.2, 132]],
  [1, [46, 175, 47, 175, 47.5, 300, 46, 300]],
  [0, [46, 200, 46.5, 215, 46.7, 300, 46, 300]],
  [1, [49, 190, 50, 160, 51, 187, 52, 163, 53, 163, 53.6, 150, 53.6, 300, 49.3, 300]],
  [2, [52, 240, 52.5, 225, 53.5, 270, 53.3, 300, 51.7, 300]],
  [4, [51.5, 300, 52, 280, 52.5, 300]],
  [4, [46, 148, 47, 135, 47, 160, 46, 165]],
  [3, [46, 158, 47, 155, 47, 175, 46, 172]],
  [2, [54, 97, 56, 90, 56.5, 90, 56.2, 105, 55, 115, 54, 118]],
  [1, [54, 100, 55, 96, 55, 102, 54.3, 107]],
  [2, [58, 92, 59, 95, 58.5, 98]],
  [10, [94.3, 145, 95, 138, 95, 160, 94.5, 152]],
  [3, [92.5, 5, 94.2, 5, 94.3, 30, 93.5, 60, 93, 60]],
  [2, [93.2, 25, 93.8, 30, 93.5, 45]],
  [9, [94.4, 5, 95, 5, 95, 40, 94.4, 40]],
  [6, [94.5, 40, 95, 40, 95, 55, 94.6, 55]],
  [5, [94.7, 55, 95, 55, 95, 70]],
  [4, [103, 5, 120, 5, 120, 45, 118.8, 52, 118.1, 47, 110.8, 40, 108.7, 38, 108, 28, 107.2, 33, 105.5, 27, 104.4, 24, 103, 24]],
  [3, [103, 5, 120, 5, 120, 40, 118.5, 45, 117, 41, 112, 33, 110.8, 33, 108.5, 35, 108, 25, 107, 25, 106, 22, 105, 20, 103, 20]],
  [2, [108, 5, 119, 5, 118.5, 35, 114, 32, 110.8, 32, 109.2, 29]],
  [2, [104.4, 5, 106.2, 5, 106, 15, 105.5, 18, 104.7, 14]],
  [1, [108.1, 5, 111.9, 5, 113, 20, 117.8, 22, 118.9, 38, 119.7, 73, 118.6, 47, 115, 26, 110.3, 13]],
  [1, [103, 5, 104.3, 5, 103.9, 17, 103.3, 12]],
  [0, [103.4, 5, 104, 5, 103.7, 11]],
  [1, [118.6, 47, 119.7, 47, 120, 50, 120, 73, 118.9, 73]],
  [0, [111.9, 5, 120, 5, 120, 50, 119.7, 73, 118.9, 41, 118.1, 20, 116.2, 8]],
  [0, [118.9, 74, 120, 73, 120, 165, 118.9, 156]],
  [1, [118.9, 156, 120, 165, 120, 205, 118.9, 198]],
  [2, [118.9, 198, 120, 205, 120, 235, 118.6, 229]],
  [3, [118.6, 229, 120, 235, 120, 270, 118.6, 267]],
  [4, [118.3, 50, 118.8, 50, 118.8, 220, 118.9, 267, 119.7, 295, 118.9, 298, 118.5, 243, 118.1, 122]],
  [6, [104.9, 55, 104.9, 30, 105.7, 34, 106.8, 47, 109, 53, 109, 55]],
  [7, [104.9, 55, 105, 35, 106.2, 44, 108.7, 53, 109, 55]],
  [5, [107.3, 32, 107.9, 29, 108.2, 41, 108.7, 50, 107.6, 47]],
  [7, [107.7, 31, 108, 35, 107.9, 39]],
  [5, [109, 55, 109, 45, 109.7, 41, 110.6, 46, 110.6, 82, 109, 82]],
  [6, [109, 53, 109.8, 44, 110.4, 47, 110.4, 79, 109, 79]],
  [7, [109, 68, 109.7, 62, 110.3, 74, 109.7, 77]],
  [4, [109, 96, 110, 96, 110.6, 106, 110.6, 142, 109, 142]],
  [3, [109, 105, 109.5, 105, 110.5, 108, 110.5, 142, 109, 142]],
  [5, [111.6, 49, 113, 50, 115.1, 62, 116.5, 82, 117.8, 98, 118.1, 120, 118, 183, 117.6, 300, 117, 298, 116.2, 288, 115.7, 298, 114.9, 300, 114.2, 243, 113.3, 171, 112.2, 143, 112.7, 126, 113.2, 123, 112.5, 105, 111.6, 86, 111, 73, 111.6, 62]],
  [10, [112.7, 70, 113.2, 73, 113, 98, 112.2, 101, 112.4, 83]],
  [10, [113, 125, 114.3, 128, 114.6, 143, 114, 146, 113.5, 132]],
  [6, [115.1, 124, 117.8, 120, 118, 153, 117.6, 201, 117, 225, 116, 219, 115.1, 232, 114.6, 183]],
  [7, [116.6, 128, 118, 128, 117, 148]],
  [7, [117.3, 106, 118, 105, 118, 111]],
  [10, [116.6, 115, 116.9, 113, 117.2, 115, 116.9, 118]],
];

const panelE: Blob[] = [
  [5, [40, 5, 41, 5, 40, 18]],
  [5, [46, 300, 46, 135, 47, 110, 47, 120, 47.4, 141, 48.3, 147, 49.3, 180, 50.1, 207, 51, 225, 51.9, 208, 53.1, 214, 53.5, 261, 53.8, 300]],
  [6, [46, 300, 46, 130, 47, 125, 47, 138, 47.7, 160, 49.2, 201, 49.8, 231, 50.8, 282, 51.9, 247, 53.1, 249, 53.7, 300]],
  [7, [46, 300, 46, 145, 47, 168, 48, 160, 49, 216, 49.8, 300]],
  [6, [46.8, 300, 46.8, 180, 47.3, 200, 47.1, 300]],
  [8, [47, 300, 47.5, 205, 48, 190, 49.5, 240, 49.3, 300]],
  [9, [47.5, 300, 47.7, 260, 48.3, 257, 48.8, 300]],
  [5, [46, 138, 47, 100, 48.9, 79, 50.1, 69, 50.9, 39, 52, 63, 53, 37, 54, 60, 59.4, 52, 65.6, 42, 66.8, 36, 71, 36, 74.8, 51, 77.9, 42, 81.7, 34, 91.6, 28, 92.8, 36, 94, 36, 94.5, 5, 46, 5]],
  [6, [46, 132, 47, 97, 48.9, 78, 50.1, 68, 50.9, 37, 52, 61, 53, 35, 54, 58, 59.4, 47, 65.6, 36, 66.8, 29, 71, 28, 74.8, 48, 77.9, 38, 81.7, 30, 91.6, 22, 92.8, 30, 94, 30, 94.5, 5, 46, 5]],
  [7, [46, 128, 47, 95, 48.9, 77, 50.1, 67, 50.9, 37, 52, 60, 53, 34, 54, 56, 59.4, 44, 65.6, 30, 66.8, 24, 71, 21, 74.8, 46, 77.9, 35, 81.7, 27, 91.6, 15, 92.8, 26, 94, 24, 94.5, 5, 46, 5]],
  [8, [46, 125, 47, 94, 48.9, 76, 50.1, 66, 50.9, 36, 52, 60, 53, 34, 54, 55, 59.4, 42, 65.6, 25, 66.8, 18, 71, 15, 74.8, 44, 77.9, 33, 81.7, 25, 91.6, 10, 92.8, 22, 94, 18, 94.5, 5, 46, 5]],
  [9, [46, 120, 47, 93, 48.9, 76, 50.1, 66, 50.9, 36, 52, 60, 53, 34, 54, 54, 59.4, 40, 65.6, 20, 66.8, 12, 71, 10, 72.7, 21, 74.8, 42, 77.9, 30, 81.7, 22, 91.6, 6, 92.2, 18, 94, 13, 94.2, 5, 46, 5]],
  [5, [74, 300, 74, 278, 75, 291, 75.2, 276, 76.1, 252, 77, 246, 77.9, 222, 81, 224, 81.9, 237, 83, 300]],
  [6, [77.2, 300, 77.4, 261, 78, 250, 81, 249, 82.3, 264, 82.8, 300]],
  [7, [78, 300, 81, 283, 82, 300]],
  [5, [94.3, 300, 94.5, 240, 95, 195, 95, 300]],
  [6, [94.7, 300, 94.8, 240, 95, 225, 95, 300]],
  [4, [54, 63, 60.3, 58, 65, 52, 66.5, 64, 66.2, 87, 65, 111, 61.9, 132, 59.4, 139, 57.2, 144, 55.7, 159, 55.1, 172, 54.2, 166, 53.2, 171, 52.3, 165, 51, 162, 49.8, 147, 48.9, 123, 48.2, 105, 48.6, 87, 49.5, 79, 50.8, 69, 52, 66, 53, 48]],
  [3, [54, 65, 59.2, 64, 63, 60, 64.7, 75, 63.7, 96, 61.3, 123, 57.6, 138, 56, 148, 54.8, 168, 54, 162, 53, 168, 51.7, 156, 50.1, 141, 49.2, 123, 48.4, 102, 48.9, 87, 50.1, 76, 51.7, 70, 53, 51]],
  [2, [54.2, 73, 60, 70, 61.6, 69, 62.5, 81, 61.9, 96, 60.3, 100, 58.2, 114, 55.7, 138, 55, 150, 53.2, 160, 51.4, 148, 49.8, 135, 48.6, 114, 48.4, 96, 49.2, 84, 51, 73, 53, 53, 53.8, 67]],
  [1, [54.2, 75, 57.6, 81, 58.5, 90, 57.2, 108, 55.7, 132, 55, 142, 53.2, 156, 51, 141, 49.2, 123, 48.4, 102, 48.9, 82, 51, 76, 53, 54, 54, 72]],
  [0, [54.2, 78, 55.7, 79, 57.2, 84, 57.6, 90, 57, 105, 55.7, 123, 55, 135, 54, 138, 53, 153, 52, 138, 50.4, 130, 48.9, 120, 48.3, 105, 48.3, 93, 49, 81, 50.4, 78, 51.6, 76, 53, 55, 53.8, 76]],
  [4, [78, 46, 80.4, 40, 82.3, 37, 84.1, 42, 87.9, 42, 92.2, 39, 92.5, 81, 93.3, 108, 92.8, 129, 90.3, 139, 87.2, 148, 83.2, 150, 83, 153, 82, 172, 81, 165, 78, 160, 76.1, 144, 74.6, 114, 74.4, 87, 75.5, 66]],
  [3, [78, 48, 82.3, 39, 84.1, 43, 92, 40, 92.2, 75, 92.8, 102, 92.2, 115, 89.7, 126, 85.4, 136, 83, 138, 82, 165, 79.2, 156, 77, 142, 75.5, 117, 75.2, 87, 76, 66]],
  [2, [77.3, 51, 82.6, 40, 92, 46, 92, 75, 92, 102, 89.4, 117, 85.6, 127, 83, 129, 82, 157, 79.2, 148, 77.3, 138, 76, 114, 75.6, 87, 76.4, 64]],
  [1, [77.3, 52, 82.6, 40, 83, 54, 85.7, 55, 88.2, 64, 89.4, 81, 88.8, 93, 86.6, 114, 84.1, 120, 83, 115, 82.8, 138, 82, 150, 79.4, 144, 77.3, 135, 76.1, 111, 75.8, 87, 76.6, 64]],
  [0, [77.7, 54, 81.4, 43, 82.6, 42, 83.2, 54, 85.7, 58, 87.2, 72, 87.2, 87, 86.3, 102, 84.4, 112, 83, 111, 82.8, 138, 81.7, 144, 79.2, 138, 77.3, 126, 76.4, 105, 76.2, 87, 76.7, 66]],
  [4, [94.3, 60, 95, 57, 95, 133, 94.3, 123, 94.2, 90]],
  [2, [94.5, 75, 95, 72, 95, 118, 94.6, 112]],
  [1, [94.6, 88, 95, 85, 95, 110, 94.7, 105]],
  [4, [94.6, 5, 95, 5, 95, 35, 94.8, 35]],
  [5, [103, 5, 103, 18, 103.6, 25, 105, 26, 107, 31, 108, 22, 108.9, 33, 110.1, 25, 111, 37, 112.6, 63, 114.1, 54, 116.3, 42, 118.2, 33, 118.6, 10, 118.6, 5]],
  [6, [103, 5, 103.2, 20, 105, 25, 107, 30, 108, 20, 108.9, 31, 110, 23, 111, 36, 112.5, 55, 114, 48, 116.3, 37, 118.2, 25, 118.6, 5]],
  [7, [103, 5, 103.2, 22, 105, 25, 107, 29, 108, 18, 108.9, 29, 110, 22, 110.8, 35, 112.5, 45, 116.3, 33, 118.2, 20, 118.6, 5]],
  [9, [103, 5, 103.3, 24, 104.5, 25, 107, 29, 108, 16, 108.9, 28, 110, 21, 110.7, 34, 112.6, 36, 116.3, 27, 118.2, 12, 118.6, 5]],
  [4, [105, 30, 108.5, 30, 109, 40, 109, 55, 105, 55]],
  [3, [105, 32, 106.5, 32, 107, 38, 108, 30, 108.7, 40, 108.7, 55, 105, 55]],
  [1, [106, 38, 107.5, 38, 107.5, 55, 106, 55]],
  [0, [105, 35, 106, 38, 106.4, 55, 105, 55]],
  [0, [107.3, 55, 107.4, 38, 108, 33, 108.4, 42, 108.5, 55]],
  [4, [109, 50, 110, 36, 111, 50, 111, 80, 110.5, 83, 109, 80]],
  [2, [109.2, 55, 110, 38, 110.8, 50, 110.8, 78, 109.2, 75]],
  [0, [109.2, 60, 110, 42, 110.6, 50, 110.7, 75, 109.3, 72]],
  [4, [109, 110, 110, 106, 110, 132, 109.6, 140, 109, 142]],
  [4, [118, 300, 118.1, 200, 118.3, 60, 119, 16, 120, 21, 120, 300]],
  [2, [118.3, 300, 118.3, 120, 118.6, 50, 119, 25, 120, 25, 120, 300]],
  [0, [118.7, 300, 118.3, 120, 118.3, 50, 119, 32, 120, 30, 120, 300]],
];

const noDot = () => null;

function ContourPlot({ left, top, blobs }: { left: number; top: number; blobs: Blob[] }) {
  const axisFont = { fontFamily: "DejaVu Serif", fontSize: 13.5, fill: "#1a1a1a" };
  return (
    <div style={{ position: "absolute", left: left - 71, top: top - 43 }}>
      <ScatterChart width={600} height={400} margin={{ top: 43, right: 34, bottom: 0, left: 0 }}>
        <XAxis
          type="number"
          dataKey="lon"
          domain={[40, 120]}
          ticks={lonTicks}
          interval={0}
          tickFormatter={(v) => `${v}E`}
          tick={axisFont}
          tickSize={4}
          tickMargin={5}
          stroke="#222"
          height={30}
        />
        <YAxis
          type="number"
          dataKey="depth"
          domain={[5, 300]}
          reversed
          ticks={depthTicks}
          interval={0}
          tick={axisFont}
          tickSize={4}
          tickMargin={5}
          stroke="#222"
          width={71}
          label={{ value: "Depth (m)", angle: -90, position: "insideLeft", offset: 21, style: { textAnchor: "middle", ...axisFont, fontSize: 15 } }}
        />
        {blobs.map(([band, flat], i) => {
          const pts = [];
          for (let k = 0; k < flat.length; k += 2) pts.push({ lon: flat[k], depth: flat[k + 1] });
          return (
            <Scatter
              key={i}
              data={pts}
              shape={noDot}
              line={{ fill: bandColors[band], stroke: "none" }}
              isAnimationActive={false}
            />
          );
        })}
        <ReferenceArea x1={40} x2={120} y1={5} y2={300} fill="none" stroke="#222" strokeWidth={1} />
      </ScatterChart>
    </div>
  );
}

function ColorBar({ x, y, labels, offset, band0 }: { x: number; y: number; labels: string[]; offset: number; band0: number }) {
  return (
    <>
      {labels.map((label, i) => (
        <div key={label}>
          <div style={{ position: "absolute", left: x + i * 49.6, top: y, width: 49.8, height: 10.5, background: bandColors[band0 + i] }} />
          <div
            style={{
              position: "absolute",
              left: x + (i + offset) * 49.6 - 30,
              top: y + 11,
              width: 60,
              textAlign: "center",
              font: "11px 'DejaVu Serif'",
              color: "#222",
            }}
          >
            {label}
          </div>
        </div>
      ))}
    </>
  );
}

function Panel(props: {
  left: number;
  top: number;
  barCold: number;
  barWarm: number;
  blobs: Blob[];
  title: string;
  titleX: number;
  spacing: number;
  cold: string[];
  warm: string[];
}) {
  const { left, top, barCold, barWarm, blobs, title, titleX, spacing, cold, warm } = props;
  return (
    <>
      <div
        style={{
          position: "absolute",
          left: titleX,
          top: top - 28,
          whiteSpace: "nowrap",
          font: "20px 'Liberation Serif'",
          letterSpacing: spacing,
          color: "#222",
        }}
      >
        {title}
      </div>
      <ContourPlot left={left} top={top} blobs={blobs} />
      <ColorBar x={barCold} y={top + 357.5} labels={cold} offset={1} band0={0} />
      <ColorBar x={barWarm} y={top + 357.5} labels={warm} offset={0} band0={5} />
    </>
  );
}

const sheets = [
  { left: 0, top: 0, width: 600, height: 430 },
  { left: 600, top: 0, width: 590, height: 430 },
  { left: 0, top: 461, width: 600, height: 417 },
  { left: 600, top: 461, width: 590, height: 417 },
  { left: 0, top: 895, width: 600, height: 430 },
];

const panelTags = [
  { text: "(a)", left: 29, top: 3 },
  { text: "(b)", left: 623, top: 3 },
  { text: "(c)", left: 33, top: 433 },
  { text: "(d)", left: 621, top: 433 },
  { text: "(e)", left: 28, top: 893 },
];

export default function App() {
  return (
    <div style={{ position: "absolute", left: 0, top: 0, width: 1190, height: 1325, background: "#fff", overflow: "hidden" }}>
      <svg width={1190} height={1325} style={{ position: "absolute", left: 0, top: 0 }}>
        <g transform="translate(724 1044) rotate(54)" fill="#d6f0fd" fontFamily="Liberation Sans" fontWeight="bold" fontSize={125}>
          <text x={-35} textAnchor="end">For Peer Review</text>
          <text x={0}>Only</text>
        </g>
      </svg>
      {sheets.map((s, i) => (
        <div key={i} style={{ position: "absolute", ...s, background: "#fdfdfd" }} />
      ))}
      {panelTags.map((t) => (
        <div key={t.text} style={{ position: "absolute", left: t.left, top: t.top, font: "bold 25px 'Open Sans'", color: "#111" }}>
          {t.text}
        </div>
      ))}
      <Panel left={71} top={43} barCold={46} barWarm={343.6} blobs={panelA} title="Zonal Curr. Anom. Pre−1976 ElNino CIGODAS" titleX={75} spacing={2.35} cold={anomalyCold} warm={anomalyWarm} />
      <Panel left={668.5} top={43} barCold={643} barWarm={940.5} blobs={panelB} title="Zonal Curr. Anom. Post−1976 ElNino CIGODAS" titleX={668} spacing={2.35} cold={anomalyCold} warm={anomalyWarm} />
      <Panel left={71} top={491} barCold={46} barWarm={343.6} blobs={panelC} title="Zonal Curr. Anom. Pre−1976 LaNina CIGODAS" titleX={74} spacing={2.35} cold={anomalyCold} warm={anomalyWarm} />
      <Panel left={668.5} top={491} barCold={643} barWarm={940.5} blobs={panelD} title="Zonal Curr. Anom. Post−1976 LaNina CIGODAS" titleX={666} spacing={2.35} cold={anomalyCold} warm={anomalyWarm} />
      <Panel left={71} top={939} barCold={46} barWarm={343.6} blobs={panelE} title="Zonal Current Climatology IO" titleX={160} spacing={2.65} cold={climCold} warm={climWarm} />
    </div>
  );
}
